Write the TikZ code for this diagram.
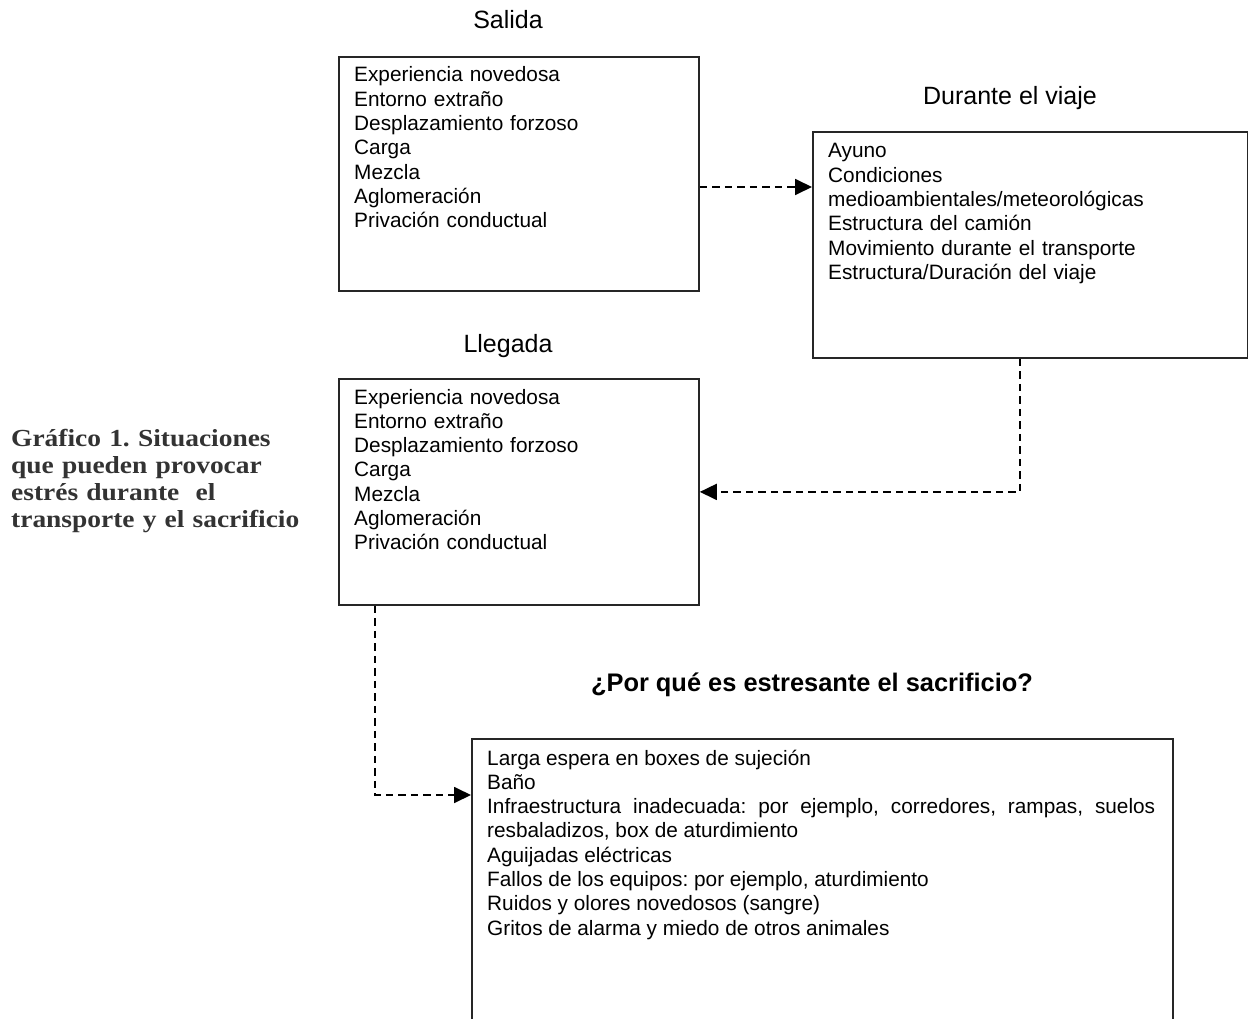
\documentclass[tikz,border=0pt]{standalone}
\usepackage{fontspec}
\setsansfont{Liberation Sans}
\newfontfamily\capfont{Liberation Serif}[FakeStretch=1.12]
\usetikzlibrary{arrows.meta}
\begin{document}
\frenchspacing
\begin{tikzpicture}[x=1pt,y=-1pt,
  box/.style={draw=black!85,line width=1.8pt,rectangle,inner sep=0pt,anchor=north west},
  body/.style={inner sep=0pt,anchor=base west,align=left,text width=340pt,font=\sffamily\fontsize{20.8}{24.3}\selectfont},
  head/.style={inner sep=0pt,anchor=base,font=\sffamily\fontsize{25}{28}\selectfont},
  conn/.style={line width=1.8pt,dash pattern=on 7.5pt off 5pt,-{Triangle[length=17pt,width=16pt]}}]
\useasboundingbox (0,0) rectangle (1248,1019);
\fill[white] (0,0) rectangle (1248,1019);

% boxes
\node[box,minimum width=360pt,minimum height=234pt] (sal) at (338,56) {};
\node[box,minimum width=435pt,minimum height=226pt] (dur) at (812,131) {};
\node[box,minimum width=360pt,minimum height=226pt] (lle) at (338,378) {};
\node[box,minimum width=701pt,minimum height=300pt] (sac) at (471,738) {};

% headings
\node[head] (hsal) at (508,29) {Salida};
\node[head] (hdur) at (1010,105) {Durante el viaje};
\node[head] (hlle) at (508,352) {Llegada};
\node[head,font=\sffamily\bfseries\fontsize{25.4}{28}\selectfont] (hsac) at (812,691) {¿Por qué es estresante el sacrificio?};

% box texts
\node[body] (tsal) at (354,82) {Experiencia novedosa\\Entorno extraño\\Desplazamiento forzoso\\Carga\\Mezcla\\Aglomeración\\Privación conductual};
\node[body,text width=410pt] (tdur) at (828,158) {Ayuno\\Condiciones\\medioambientales/meteorológicas\\Estructura del camión\\Movimiento durante el transporte\\Estructura/Duración del viaje};
\node[body] (tlle) at (354,404) {Experiencia novedosa\\Entorno extraño\\Desplazamiento forzoso\\Carga\\Mezcla\\Aglomeración\\Privación conductual};
\node[body,text width=668pt,align=justify] (tsac) at (487,765) {Larga espera en boxes de sujeción\\Baño\\Infraestructura inadecuada: por ejemplo, corredores, rampas, suelos\linebreak resbaladizos, box de aturdimiento\\Aguijadas eléctricas\\Fallos de los equipos: por ejemplo, aturdimiento\\Ruidos y olores novedosos (sangre)\\Gritos de alarma y miedo de otros animales};

% caption
\node[inner sep=0pt,anchor=base west,align=left,text width=320pt,text=black!80,font=\capfont\bfseries\fontsize{24.5}{27}\selectfont] (cap) at (11,446) {Gráfico 1. Situaciones\\que pueden provocar\\estrés durante\ \ el\\transporte y el sacrificio};

% connectors
\coordinate (y1) at (0,187);
\coordinate (x2) at (1020,0);
\coordinate (x3) at (375,0);
\coordinate (y3) at (0,795);
\draw[conn] (sal.east |- y1) -- (dur.west |- y1);
\draw[conn] (dur.south -| x2) |- (lle.east);
\draw[conn] (lle.south -| x3) |- (sac.west |- y3);
\end{tikzpicture}
\end{document}
